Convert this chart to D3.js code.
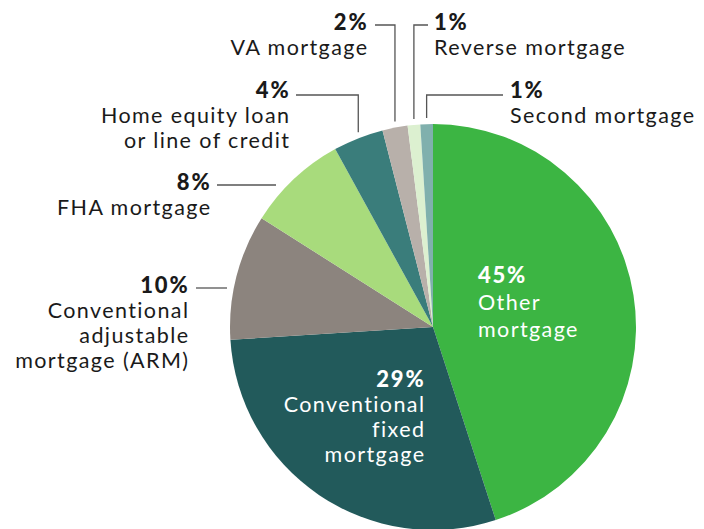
<!DOCTYPE html>
<html>
<head>
<meta charset="utf-8">
<script src="https://cdn.jsdelivr.net/npm/d3@7"></script>
<style>
  body { margin: 0; background: #fff; }
  svg { display: block; font-family: Lato, "Open Sans", sans-serif; }
</style>
</head>
<body>
<svg id="chart" width="704" height="529"></svg>
<script>
// data
const names   = ["Other mortgage", "Conventional fixed mortgage", "Conventional adjustable mortgage (ARM)",
                 "FHA mortgage", "Home equity loan or line of credit", "VA mortgage",
                 "Reverse mortgage", "Second mortgage"];
const shares  = [45, 29, 10, 8, 4, 2, 1, 1];
const lines   = [["Other", "mortgage"], ["Conventional", "fixed", "mortgage"],
                 ["Conventional", "adjustable", "mortgage (ARM)"], ["FHA mortgage"],
                 ["Home equity loan", "or line of credit"], ["VA mortgage"],
                 ["Reverse mortgage"], ["Second mortgage"]];
const colors  = ["#3cb543", "#225a5b", "#8c847e", "#a8db7c", "#3a7d7b", "#b8b0aa", "#dcf0d0", "#80b0ad"];

const svg = d3.select("#chart");
const cx = 433, cy = 327, R = 203;
const lh = 25;
const ls = 1.4;   // letter spacing, to get closer to the wide original face

const pie = d3.pie().sort(null).value(d => d);
const arc = d3.arc().innerRadius(0).outerRadius(R);
const arcs = pie(shares);

const g = svg.append("g").attr("transform", `translate(${cx},${cy})`);
g.selectAll("path")
  .data(arcs).enter().append("path")
    .attr("d", arc)
    .attr("fill", (d, i) => colors[i]);

// label layout: x/y of first baseline, anchor, leader type
const layout = [
  { x: 478, y: 283, anchor: "start", inside: true, step: 27 },
  { x: 424, y: 387, anchor: "end",   inside: true },
  { x: 188, y: 293, anchor: "end",   lead: "h", ly: 288, x0: 196, x1: 227 },
  { x: 210, y: 190, anchor: "end",   lead: "h", ly: 185, x0: 217, x1: 276 },
  { x: 289, y: 98,  anchor: "end",   lead: "v", ly: 95,  x0: 296 },
  { x: 367, y: 30,  anchor: "end",   lead: "v", ly: 25,  x0: 375 },
  { x: 434, y: 30,  anchor: "start", lead: "v", ly: 25,  x0: 428 },
  { x: 510, y: 98,  anchor: "start", lead: "v", ly: 95,  x0: 503 }
];

arcs.forEach((a, i) => {
  const L = layout[i];
  const step = L.step || lh;
  const col = L.inside ? "#fff" : "#1a1a1a";
  const x = L.anchor === "end" ? L.x + ls : L.x;
  const t = svg.append("text")
    .attr("text-anchor", L.anchor)
    .attr("fill", col)
    .attr("font-size", 21.5)
    .attr("letter-spacing", ls);
  t.append("tspan").attr("x", x).attr("y", L.y)
    .attr("font-weight", 900)
    .attr("font-size", 22)
    .attr("letter-spacing", 1.8)
    .text(shares[i] + "%");
  lines[i].forEach((s, k) => {
    t.append("tspan").attr("x", x).attr("y", L.y + step * (k + 1)).text(s);
  });

  if (L.lead === "h") {
    svg.append("path")
      .attr("d", `M${L.x0},${L.ly}H${L.x1}`)
      .attr("stroke", "#555").attr("stroke-width", 1.3).attr("fill", "none");
  } else if (L.lead === "v") {
    const mid = (a.startAngle + a.endAngle) / 2;
    const px = cx + R * Math.sin(mid);
    const py = cy - R * Math.cos(mid) - 6;
    svg.append("path")
      .attr("d", `M${L.x0},${L.ly}H${px}V${py}`)
      .attr("stroke", "#555").attr("stroke-width", 1.3).attr("fill", "none");
  }
});
</script>
</body>
</html>
